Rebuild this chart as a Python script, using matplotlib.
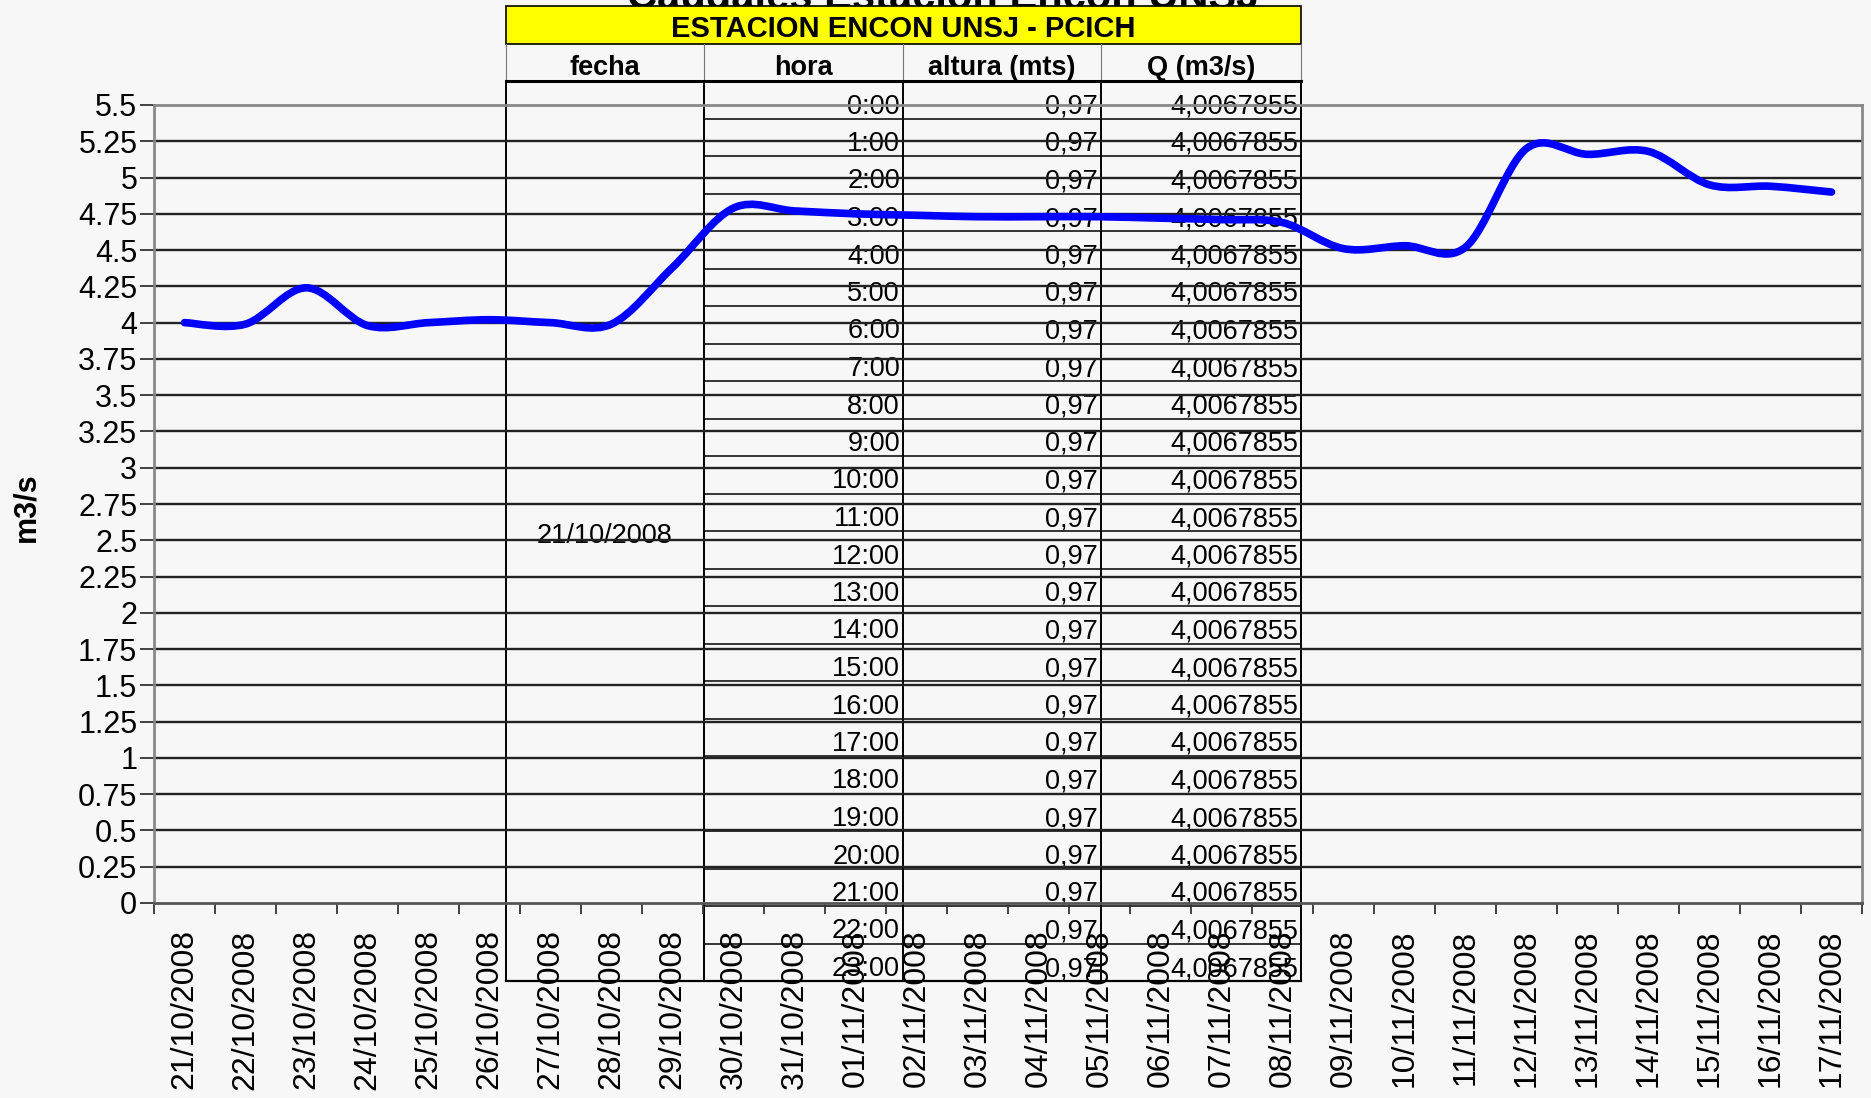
import numpy as np
import matplotlib.pyplot as plt
from matplotlib.path import Path
from matplotlib.patches import PathPatch, Rectangle
from matplotlib.ticker import FixedLocator

plt.rcParams['font.family'] = ['Liberation Sans', 'DejaVu Sans']

# datos del grafico
fechas = ['21/10/2008', '22/10/2008', '23/10/2008', '24/10/2008', '25/10/2008',
          '26/10/2008', '27/10/2008', '28/10/2008', '29/10/2008', '30/10/2008',
          '31/10/2008', '01/11/2008', '02/11/2008', '03/11/2008', '04/11/2008',
          '05/11/2008', '06/11/2008', '07/11/2008', '08/11/2008', '09/11/2008',
          '10/11/2008', '11/11/2008', '12/11/2008', '13/11/2008', '14/11/2008',
          '15/11/2008', '16/11/2008', '17/11/2008']
caudal = [4.00, 3.99, 4.24, 3.98, 4.00, 4.02, 4.00, 3.99, 4.38, 4.79,
          4.77, 4.75, 4.74, 4.73, 4.73, 4.73, 4.72, 4.71, 4.69, 4.51,
          4.53, 4.52, 5.20, 5.16, 5.18, 4.95, 4.94, 4.90]
y_ticks = [0, 0.25, 0.5, 0.75, 1, 1.25, 1.5, 1.75, 2, 2.25, 2.5, 2.75,
           3, 3.25, 3.5, 3.75, 4, 4.25, 4.5, 4.75, 5, 5.25, 5.5]

# datos de la tabla superpuesta
tabla_titulo = 'ESTACION ENCON UNSJ - PCICH'
tabla_cols = ['fecha', 'hora', 'altura (mts)', 'Q (m3/s)']
tabla_fecha = '21/10/2008'
tabla_horas = ['0:00', '1:00', '2:00', '3:00', '4:00', '5:00', '6:00', '7:00',
               '8:00', '9:00', '10:00', '11:00', '12:00', '13:00', '14:00', '15:00',
               '16:00', '17:00', '18:00', '19:00', '20:00', '21:00', '22:00', '23:00']
tabla_altura = ['0,97'] * 24
tabla_q = ['4,0067855'] * 24

W, H = 1871, 1098
fig = plt.figure(figsize=(W / 100, H / 100), dpi=100, facecolor='#f7f7f7')

# capa de fondo en pixeles (titulo + tabla)
tab = fig.add_axes([0, 0, 1, 1], zorder=0)
tab.set_xlim(0, W)
tab.set_ylim(H, 0)
tab.axis('off')

tab.text(943, 9, 'Caudales Estación Encon UNSJ', ha='center', va='baseline',
         fontsize=30, fontweight='bold', zorder=1)
tab.add_patch(Rectangle((506, 6), 795, 38, facecolor='#ffff00',
                        edgecolor='black', lw=1.2, zorder=2))
tab.text(903, 37, tabla_titulo, ha='center', va='baseline', fontsize=21,
         fontweight='bold', zorder=3)

col_x = [506, 704, 903, 1101, 1301]
head_top, head_bot = 44, 81
row_h = 37.5
n_rows = len(tabla_horas)
tab_bot = head_bot + n_rows * row_h

for i, c in enumerate(tabla_cols):
    tab.text((col_x[i] + col_x[i + 1]) / 2, 75, c, ha='center', va='baseline',
             fontsize=19.5, fontweight='bold', zorder=3)
for x in col_x:
    tab.plot([x, x], [head_top, head_bot], color='#777777', lw=0.8, zorder=2)
tab.plot([col_x[0], col_x[-1]], [head_bot, head_bot], color='black', lw=2.2, zorder=2)

for x in col_x:
    tab.plot([x, x], [head_bot, tab_bot], color='black', lw=1.4, zorder=2)
for i in range(1, n_rows):
    y = head_bot + i * row_h
    tab.plot([col_x[1], col_x[-1]], [y, y], color='black', lw=1.1, zorder=2)
tab.plot([col_x[0], col_x[-1]], [tab_bot, tab_bot], color='black', lw=1.6, zorder=2)

for i in range(n_rows):
    yb = head_bot + (i + 1) * row_h - 5
    tab.text(col_x[2] - 3, yb, tabla_horas[i], ha='right', va='baseline', fontsize=19.5, zorder=3)
    tab.text(col_x[3] - 3, yb, tabla_altura[i], ha='right', va='baseline', fontsize=19.5, zorder=3)
    tab.text(col_x[4] - 3, yb, tabla_q[i], ha='right', va='baseline', fontsize=19.5, zorder=3)
tab.text(605, 543, tabla_fecha, ha='center', va='baseline', fontsize=19.5, zorder=3)

tab.text(26, 507, 'm3/s', rotation=90, ha='center', va='center', fontsize=22,
         fontweight='bold')

# grafico de caudales
left, right, top, bottom = 154, 1862, 105, 903
ax = fig.add_axes([left / W, (H - bottom) / H, (right - left) / W, (bottom - top) / H],
                  zorder=1)
ax.patch.set_alpha(0)

x = np.arange(len(fechas))
y = np.array(caudal)


def smooth_path(xs, ys):
    n = len(xs)
    verts = [(xs[0], ys[0])]
    codes = [Path.MOVETO]
    for i in range(n - 1):
        a = max(i - 1, 0)
        d = min(i + 2, n - 1)
        c1 = (xs[i] + (xs[i + 1] - xs[a]) / 6, ys[i] + (ys[i + 1] - ys[a]) / 6)
        c2 = (xs[i + 1] - (xs[d] - xs[i]) / 6, ys[i + 1] - (ys[d] - ys[i]) / 6)
        verts += [c1, c2, (xs[i + 1], ys[i + 1])]
        codes += [Path.CURVE4] * 3
    return Path(verts, codes)


ax.add_patch(PathPatch(smooth_path(x, y), facecolor='none', edgecolor='#0000ff',
                       lw=5.5, capstyle='round', joinstyle='round', zorder=3))

ax.set_xlim(-0.5, len(fechas) - 0.5)
ax.set_ylim(0, 5.5)
ax.set_yticks(y_ticks)
ax.set_yticklabels(['{:g}'.format(v) for v in y_ticks], fontsize=22)
ax.set_xticks(x)
ax.set_xticklabels(fechas, rotation=90, fontsize=23)
ax.xaxis.set_minor_locator(FixedLocator(np.arange(-0.5, len(fechas), 1)))
ax.tick_params(axis='x', which='major', length=0, pad=19)
ax.tick_params(axis='x', which='minor', length=8, width=1.3, direction='out', color='#333333')
ax.tick_params(axis='y', length=10, width=1.3, direction='out', color='#333333', pad=2)

for v in y_ticks[1:-1]:
    ax.axhline(v, color='#222222', lw=1.7, zorder=1)

for s in ['top', 'right', 'left']:
    ax.spines[s].set_color('#888888')
    ax.spines[s].set_linewidth(2)
ax.spines['bottom'].set_color('#555555')
ax.spines['bottom'].set_linewidth(2)

fig.savefig('out.png', dpi=100, facecolor=fig.get_facecolor())
